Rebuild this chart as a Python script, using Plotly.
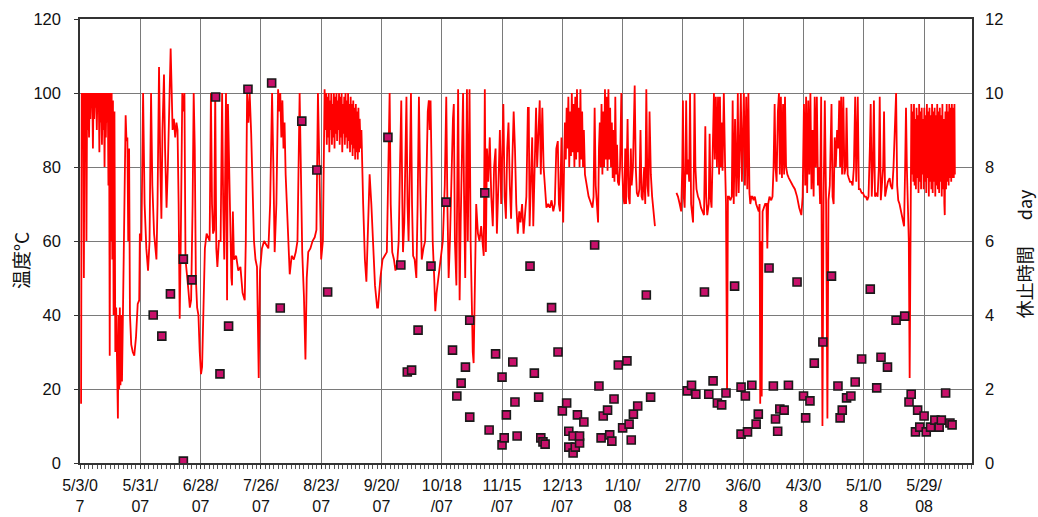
import pandas as pd
import plotly.graph_objects as go

START = pd.Timestamp("2007-05-03")

# x-axis tick positions and labels
tick_dates = ["2007-05-03", "2007-05-31", "2007-06-28", "2007-07-26", "2007-08-23",
              "2007-09-20", "2007-10-18", "2007-11-15", "2007-12-13", "2008-01-10",
              "2008-02-07", "2008-03-06", "2008-04-03", "2008-05-01", "2008-05-29"]
tick_labels = ["5/3/0<br>7", "5/31/<br>07", "6/28/<br>07", "7/26/<br>07", "8/23/<br>07",
               "9/20/<br>07", "10/18<br>/07", "11/15<br>/07", "12/13<br>/07", "1/10/<br>08",
               "2/7/0<br>8", "3/6/0<br>8", "4/3/0<br>8", "5/1/0<br>8", "5/29/<br>08"]

# temperature (°C) readings: (days since 2007-05-03, value)
temp_may_jul = [
    (0.5,16),(0.8,100),(1.2,92),(1.5,100),(1.8,50),(2.1,100),(2.4,95),(2.7,100),(3.0,60),(3.3,100),
    (3.6,90),(3.9,100),(4.2,88),(4.5,100),(4.8,93),(5.1,100),(5.4,96),(5.7,100),(6.0,85),(6.3,100),
    (6.6,93),(6.9,100),(7.2,96),(7.5,100),(7.8,90),(8.1,100),(8.4,95),(8.7,100),(9.0,84),(9.3,100),
    (9.6,92),(9.9,100),(10.2,86),(10.5,100),(10.8,90),(11.1,100),(11.4,80),(11.7,100),(12.0,88),(12.3,100),
    (12.6,92),(12.9,100),(13.2,75),(13.5,100),(13.8,29),(14.1,100),(14.4,60),(14.7,100),(15.0,55),(15.3,98),
    (15.6,40),(16.0,95),(16.4,30),(16.8,42),(17.2,20),(17.6,12),(17.9,40),(18.2,20),(18.5,42),(18.8,21),
    (19.1,40),(19.5,22),(20.0,43),(20.5,60),(21.2,94),(21.6,87),(22.0,88),(22.4,60),(22.8,85),(23.2,40),
    (23.8,32),(24.5,30),(25.2,29),(26.0,34),(26.8,43),(27.5,44),(27.8,62),(28.5,60),(29.3,100),(30.0,70),
    (30.8,58),(31.6,52),(32.3,60),(33.0,100),(33.6,75),(34.4,62),(35.5,55),(36.0,70),(36.7,107),(37.3,80),
    (37.8,66),(38.3,90),(39.0,105),(39.5,85),(40.2,69),(40.8,80),(41.5,100),(42.1,112),(42.6,100),(43.0,90),
    (43.6,93),(44.2,88),(44.8,92),(45.3,90),(45.8,70),(46.3,39),(46.8,60),(47.5,100),(48.0,95),(48.5,100),
    (49.0,55),(49.6,50),(50.3,47),(51.0,42),(51.6,44),(52.3,70),(52.8,100),(53.3,85),(53.8,50),(54.4,42),
    (55.0,40),(55.6,30),(56.2,24),(56.7,26),(57.3,45),(58.0,58),(58.8,62),(59.6,61),(60.2,60),(60.8,100),
    (61.3,70),(61.8,62),(62.3,63),(62.8,100),(63.3,58),(63.8,53),(64.5,60),(65.3,60),(66.0,100),(66.5,70),
    (67.0,55),(67.8,100),(68.3,44),
]
temp_jul_sep = [
    (68.7,97),(69.5,70),(70.3,50),(70.6,48),(71.0,68),(71.5,55),(72.5,56),(73.5,52),(74.5,53),(75.5,46),
    (76.5,44),(77.0,60),(77.6,100),(78.2,92),(78.8,100),(79.5,89),(80.2,70),(80.8,60),(81.5,55),(82.2,53),
    (83.0,23),(83.6,52),(84.5,58),(85.5,60),(86.5,59),(87.5,58),(88.3,70),(89.2,100),(89.8,80),(90.4,57),
    (91.2,70),(92.0,101),(92.5,95),(93.0,100),(93.5,88),(94.0,98),(94.5,85),(95.0,92),(95.5,78),(96.0,70),
    (96.5,60),(97.4,51),(98.3,56),(99.3,55),(100.2,57),(101.0,60),(102.0,100),(102.6,75),(103.2,57),(104.0,45),
    (104.7,28),(105.3,50),(106.0,57),(107.0,58),(108.0,60),(109.0,61),(109.8,63),(110.5,100),(111.2,75),(112.0,55),
    (112.8,60),(113.6,101),(114.0,90),(114.3,100),(114.6,86),(114.9,99),(115.2,88),(115.5,100),(115.8,84),(116.1,98),
    (116.4,90),(116.7,100),(117.0,86),(117.3,97),(117.6,88),(117.9,100),(118.2,85),(118.5,99),(118.8,89),(119.1,100),
    (119.4,87),(119.7,98),(120.0,90),(120.3,100),(120.6,86),(120.9,99),(121.2,88),(121.5,100),(121.8,84),(122.1,97),
    (122.4,89),(122.7,99),(123.0,86),(123.3,100),(123.6,88),(123.9,98),(124.2,85),(124.5,100),(124.8,87),(125.1,97),
    (125.4,84),(125.7,99),(126.0,86),(126.3,97),(126.6,83),(126.9,98),(127.2,85),(127.5,96),(127.8,82),(128.1,97),
    (128.4,84),(128.7,95),(129.0,82),(129.3,96),(129.6,84),(129.9,93),(130.3,85),(130.7,90),(131.5,70),(132.3,55),
    (133.0,49),(133.8,65),(134.5,78),(135.3,70),(136.0,60),(137.0,48),(138.0,42),
]
temp_sep_nov = [
    (138.4,42),(139.5,50),(140.5,55),(141.5,56),(142.5,57),(143.2,80),(143.8,100),(144.3,70),(145.0,57),(145.8,55),
    (146.5,52),(147.3,54),(148.0,60),(148.6,80),(149.2,98),(149.7,70),(150.0,57),(150.6,65),(151.6,99),(152.1,70),
    (152.6,60),(153.2,80),(153.7,100),(154.2,70),(154.7,56),(155.4,55),(156.2,50),(156.8,70),(157.4,99),(158.0,75),
    (158.7,55),(159.5,58),(160.3,60),(161.0,80),(161.5,95),(162.0,98),(162.4,90),(162.8,98),(163.2,80),(163.8,60),
    (164.5,50),(165.0,41),(165.6,46),(166.2,49),(166.8,52),(167.5,55),(168.5,60),(169.4,75),(170.1,99),(170.6,71),
    (171.2,50),(171.8,60),(172.5,80),(173.2,93),(173.6,97),(174.1,60),(174.8,48),(175.2,70),(175.6,101),(176.0,70),
    (176.3,44),(176.8,65),(177.4,90),(177.9,100),(178.4,70),(178.9,50),(179.3,75),(179.7,101),(180.1,60),(180.5,80),
    (180.9,101),(181.4,60),(181.9,40),(182.4,30),(182.8,27),(183.3,50),(184.0,70),(184.8,62),(185.5,60),(186.3,64),
    (187.0,58),(187.5,56),(188.0,101),(188.5,57),(189.0,85),(189.6,76),(190.3,88),(191.0,72),(191.7,64),(192.3,80),
    (193.0,85),(193.6,62),(194.3,75),(195.0,90),(195.6,70),(196.2,92),(196.6,97),(197.2,72),(197.8,66),(198.4,85),
    (199.0,92),(199.6,75),(200.2,66),(200.8,82),(201.4,95),(202.0,85),(202.6,70),(203.3,62),(204.0,68),(204.6,65),
    (205.3,70),(206.0,62),(206.6,68),(207.3,72),(208.0,96),
]
temp_dec_jan = [
    (208.4,96),(208.8,64),(209.4,80),(210.0,88),(210.5,64),(211.0,80),(211.8,96),(212.3,80),(213.0,90),(213.5,98),
    (214.0,78),(214.7,96),(215.3,80),(216.0,72),(216.6,69),(217.4,70),(218.2,69),(219.0,71),(219.8,68),(220.5,70),
    (221.2,85),(221.9,87),(222.4,70),(222.9,68),(223.6,88),(224.0,75),(224.4,65),(224.8,80),(225.2,92),(225.6,82),
    (226.0,96),(226.4,85),(226.8,99),(227.2,80),(227.6,95),(228.0,83),(228.4,100),(228.8,84),(229.2,97),(229.6,80),
    (230.0,99),(230.4,82),(230.8,101),(231.2,84),(231.6,96),(232.0,80),(232.4,101),(232.8,82),(233.2,95),(233.6,80),
    (234.0,90),(234.5,78),(235.0,76),(235.6,74),(236.2,72),(236.8,71),(237.4,70),(238.0,69),(238.5,72),(239.0,96),
    (239.5,75),(240.0,70),(240.6,65),(241.0,85),(241.4,92),(241.8,80),(242.2,97),(242.6,78),(243.0,95),(243.4,80),
    (243.8,101),(244.2,82),(244.6,99),(245.0,79),(245.4,101),(245.8,82),(246.2,96),(246.6,80),(247.0,92),(247.4,77),
    (247.8,90),(248.2,76),(248.6,99),(249.0,78),(249.4,86),(249.8,76),(250.3,75),(250.8,80),(251.4,100),(251.8,80),
    (252.3,72),(252.8,70),(253.2,85),(253.6,70),(254.3,93),(254.8,72),(255.3,70),(255.8,85),(256.2,75),(256.8,80),
    (257.6,102),(258.1,80),(258.6,73),(259.2,72),(259.8,74),(260.3,90),(260.8,72),(261.3,71),(262.0,80),(262.5,70),
    (263.0,101),(263.5,75),(264.0,72),(264.5,95),(265.1,78),(265.7,72),(266.3,68),(267.0,64),
    (272.0,None),
]
temp_feb_apr = [
    (277.0,73),(277.7,72),(278.5,70),(279.2,68),(279.7,80),(280.0,98),(280.4,72),(280.8,69),(281.2,80),(281.5,98),
    (281.9,78),(282.4,82),(282.9,76),(283.3,100),(283.8,70),(284.4,66),(284.7,65),(285.1,80),(285.4,100),(285.8,80),
    (286.3,74),(287.0,72),(287.7,71),(288.4,69),(289.1,68),(289.8,67),(290.4,91),(290.8,72),(291.3,67),(292.0,70),
    (292.4,89),(292.8,72),(293.3,69),(293.8,80),(294.4,100),(294.8,82),(295.3,99),(295.8,80),(296.3,99),(296.8,78),
    (297.2,99),(297.6,80),(298.0,92),(298.4,79),(299.0,100),(299.6,80),(300.0,70),(300.5,20),(300.9,72),(301.4,72),
    (302.0,71),(302.7,72),(303.1,98),(303.6,70),(304.2,93),(304.8,72),(305.1,80),(305.5,100),(305.9,73),(306.4,85),
    (306.9,100),(307.4,76),(307.9,90),(308.3,100),(308.8,75),(309.4,99),(309.9,74),(310.4,100),(310.9,73),(311.3,70),
    (311.8,72),(312.3,72),(312.8,71),(313.4,72),(314.0,70),(314.6,69),(315.2,68),(315.6,70),(315.9,16),(316.3,60),
    (316.6,18),(317.0,68),(317.6,69),(318.2,70),(318.8,70),(319.2,58),(319.6,70),(320.2,72),(321.0,71),(321.6,72),
    (322.1,80),(322.6,97),(323.0,80),(323.5,76),(324.1,95),(324.6,100),(325.0,78),(325.5,99),(326.0,77),(326.5,97),
    (327.0,78),(327.4,99),(327.9,80),(328.5,78),(329.2,77),(330.0,76),(331.0,75),(332.0,74),(333.0,72),(334.0,69),
    (335.0,67),(335.6,72),(336.2,97),(336.8,75),(337.2,99),(337.7,73),(338.2,98),(338.7,78),(339.2,100),(339.7,74),
    (340.2,90),(340.7,72),(341.2,99),(341.7,80),(342.2,99),(342.7,75),(343.2,80),(343.7,70),(344.2,99),(344.5,50),
    (344.8,10),(345.3,70),(345.9,98),(346.5,70),(347.1,12),(347.6,71),
]
temp_apr_jun = [
    (348.2,75),(349.0,97),(349.5,72),(350.0,70),(350.5,88),(351.0,80),(351.6,90),(352.1,85),(352.6,98),(353.0,80),
    (353.5,99),(353.9,78),(354.5,99),(355.0,78),(355.6,80),(356.0,96),(356.5,78),(357.0,77),(357.6,76),(358.2,76),
    (358.8,75),(359.4,80),(360.0,99),(360.5,76),(361.2,99),(361.7,74),(362.3,74),(363.0,73),(363.6,73),(364.3,72),
    (365.0,72),(365.6,71),(366.2,72),(366.8,85),(367.2,97),(367.7,72),(368.2,80),(368.7,98),(369.2,72),(369.8,73),
    (370.4,72),(371.0,80),(371.4,99),(371.9,71),(372.4,75),(373.0,80),(373.4,95),(373.9,72),(374.5,74),(375.2,76),
    (376.0,77),(376.5,75),(377.2,74),(377.8,80),(378.4,90),(379.0,100),(379.5,75),(380.0,71),(380.6,70),(381.2,68),
    (381.8,66),(382.3,65),(382.7,64),(383.2,80),(383.6,96),(384.0,80),(384.4,68),(384.9,60),(385.3,23),(385.7,60),
    (386.1,97),(386.4,78),(386.7,95),(387.0,76),(387.3,97),(387.6,75),(387.9,93),(388.2,74),(388.5,96),(388.8,77),
    (389.1,94),(389.4,73),(389.7,97),(390.0,76),(390.3,95),(390.6,74),(390.9,96),(391.2,78),(391.5,93),(391.8,74),
    (392.1,96),(392.4,76),(392.7,94),(393.0,73),(393.3,97),(393.6,77),(393.9,95),(394.2,72),(394.5,96),(394.8,76),
    (395.1,94),(395.4,74),(395.7,97),(396.0,73),(396.3,95),(396.6,76),(396.9,96),(397.2,72),(397.5,94),(397.8,75),
    (398.1,97),(398.4,74),(398.7,95),(399.0,73),(399.3,96),(399.6,76),(399.9,94),(400.2,72),(400.5,97),(400.8,74),
    (401.1,93),(401.4,70),(401.6,67),(401.9,95),(402.2,74),(402.5,97),(402.8,76),(403.1,95),(403.4,75),(403.7,97),
    (404.0,77),(404.3,96),(404.6,76),(404.9,97),(405.2,77),(405.5,96),(405.8,77),(406.1,97),(406.3,78),
]

# rest time (days), right axis
rest_dates = [
    "2007-06-06","2007-06-10","2007-06-14","2007-06-20","2007-06-20","2007-06-24","2007-07-05","2007-07-07",
    "2007-07-11","2007-07-20","2007-07-31","2007-08-04","2007-08-14","2007-08-21","2007-08-26","2007-09-23",
    "2007-09-29","2007-10-02","2007-10-04","2007-10-07","2007-10-13","2007-10-20","2007-10-23","2007-10-25",
    "2007-10-27","2007-10-29","2007-10-31","2007-10-31","2007-11-07","2007-11-09","2007-11-12","2007-11-15",
    "2007-11-15","2007-11-16","2007-11-17","2007-11-20","2007-11-21","2007-11-22","2007-11-28","2007-11-30",
    "2007-12-02","2007-12-03","2007-12-04","2007-12-05","2007-12-08","2007-12-11","2007-12-13","2007-12-15",
    "2007-12-16","2007-12-16","2007-12-18","2007-12-18","2007-12-19","2007-12-20","2007-12-21","2007-12-21",
    "2007-12-23","2007-12-28","2007-12-30","2007-12-31","2008-01-01","2008-01-03","2008-01-04","2008-01-05",
    "2008-01-06","2008-01-08","2008-01-10","2008-01-12","2008-01-13","2008-01-14","2008-01-15","2008-01-17",
    "2008-01-21","2008-01-23","2008-02-09","2008-02-11","2008-02-13","2008-02-17","2008-02-19","2008-02-21",
    "2008-02-23","2008-02-25","2008-02-27","2008-03-02","2008-03-05","2008-03-05","2008-03-07","2008-03-08",
    "2008-03-10","2008-03-12","2008-03-13","2008-03-18","2008-03-20","2008-03-21","2008-03-22","2008-03-23",
    "2008-03-25","2008-03-27","2008-03-31","2008-04-03","2008-04-04","2008-04-06","2008-04-08","2008-04-12",
    "2008-04-16","2008-04-19","2008-04-20","2008-04-21","2008-04-23","2008-04-25","2008-04-27","2008-04-30",
    "2008-05-04","2008-05-07","2008-05-09","2008-05-12","2008-05-16","2008-05-20","2008-05-22","2008-05-23",
    "2008-05-25","2008-05-26","2008-05-27","2008-05-29","2008-05-30","2008-06-01","2008-06-03","2008-06-05",
    "2008-06-06","2008-06-08","2008-06-10","2008-06-11",
]
rest_days = [
    4.0,3.43,4.57,5.51,0.05,4.95,9.89,2.41,
    3.7,10.1,10.27,4.19,9.24,7.92,4.62,8.8,
    5.35,2.46,2.51,3.59,5.32,7.05,3.05,1.81,
    2.16,2.59,3.86,1.24,7.3,0.89,2.95,2.32,
    0.49,0.68,1.3,2.73,1.65,0.73,5.32,2.43,
    1.78,0.68,0.57,0.51,4.2,3.0,1.41,1.62,
    0.86,0.43,0.73,0.27,0.43,1.3,0.54,0.73,
    1.11,5.89,2.08,0.68,1.27,1.43,0.76,0.59,
    1.73,2.65,0.95,2.76,1.05,0.62,1.32,1.54,
    4.54,1.78,1.95,2.1,1.86,4.62,1.86,2.22,
    1.62,1.57,1.89,4.78,2.05,0.78,1.81,0.84,
    2.1,1.05,1.32,5.27,2.08,1.19,0.86,1.46,
    1.43,2.1,4.89,1.81,1.22,1.68,2.7,3.27,
    5.05,2.08,1.22,1.43,1.76,1.81,2.19,2.81,
    4.7,2.03,2.86,2.59,3.86,3.97,1.65,1.86,
    0.84,1.43,0.97,1.27,0.84,0.97,1.16,0.97,
    1.16,1.89,1.08,1.03,
]

temp_points = temp_may_jul + temp_jul_sep + temp_sep_nov + temp_dec_jan + temp_feb_apr + temp_apr_jun
temp_x = [START + pd.Timedelta(days=d) for d, _ in temp_points]
temp_y = [v for _, v in temp_points]

fig = go.Figure()
fig.add_trace(go.Scatter(
    x=temp_x, y=temp_y, mode="lines", yaxis="y",
    line=dict(color="#FF0000", width=1.8), connectgaps=False, showlegend=False,
))
fig.add_trace(go.Scatter(
    x=pd.to_datetime(rest_dates), y=rest_days, mode="markers", yaxis="y2",
    marker=dict(symbol="square", size=8, color="#C8106A", line=dict(color="#1a1a1a", width=1.6)),
    showlegend=False,
))

tick_font = dict(family="Liberation Sans, Arial, sans-serif", size=16.5, color="#111111")
grid_col = "#7a7a7a"

fig.update_layout(
    width=1038, height=517,
    margin=dict(l=80, r=66, t=19, b=54, autoexpand=False),
    paper_bgcolor="white", plot_bgcolor="white",
    xaxis=dict(
        type="date", automargin=False,
        range=[pd.Timestamp("2007-05-03"), pd.Timestamp("2008-06-20 06:00")],
        tickmode="array", tickvals=pd.to_datetime(tick_dates), ticktext=tick_labels,
        tickfont=dict(family="Liberation Sans, Arial, sans-serif", size=16, color="#111111"),
        ticklabelstandoff=3,
        showgrid=True, gridcolor=grid_col, gridwidth=1,
        showline=True, linecolor="#333333", linewidth=1.5, mirror=True,
        ticks="outside", ticklen=4, tickcolor="#333333",
        minor=dict(tick0="2007-05-03", dtick=2 * 86400000, ticks="outside", ticklen=4,
                   tickcolor="#555555", showgrid=False),
        zeroline=False,
    ),
    yaxis=dict(
        range=[0, 120], dtick=20, tickfont=tick_font, automargin=False,
        showgrid=True, gridcolor=grid_col, gridwidth=1,
        showline=True, linecolor="#333333", linewidth=1.5, mirror=True,
        ticks="outside", ticklen=4, tickcolor="#333333", ticklabelstandoff=10,
        zeroline=False,
    ),
    yaxis2=dict(
        range=[0, 12], dtick=2, overlaying="y", side="right", tickfont=tick_font,
        automargin=False, showgrid=False, zeroline=False, ticks="", ticklabelstandoff=12,
    ),
    annotations=[
        dict(text="温度°C", xref="paper", yref="paper", x=-0.0673, y=0.457, textangle=-90,
             showarrow=False, font=dict(family="Noto Sans CJK JP", size=19, color="#111111"),
             xanchor="center", yanchor="middle"),
        dict(text="休止時間　  day", xref="paper", yref="paper", x=1.0583, y=0.47, textangle=-90,
             showarrow=False, font=dict(family="Noto Sans CJK JP", size=18, color="#111111"),
             xanchor="center", yanchor="middle"),
    ],
)

fig.write_html(
    "out.html",
    config={"displayModeBar": False},
    post_script="document.body.style.margin='0';document.body.style.overflow='hidden';"
                "document.documentElement.style.overflow='hidden';",
)
